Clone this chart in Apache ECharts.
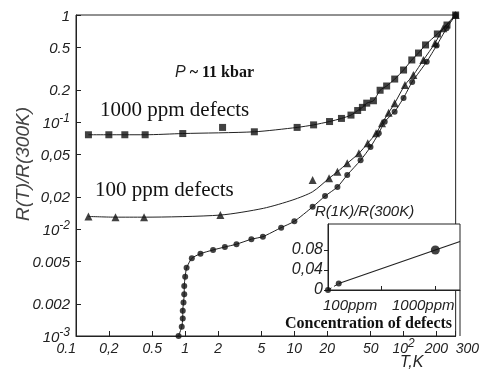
<!DOCTYPE html>
<html>
<head>
<meta charset="utf-8">
<script src="https://cdn.jsdelivr.net/npm/echarts@6/dist/echarts.min.js"></script>
<style>
html,body{margin:0;padding:0;background:#fff}
#chart{width:482px;height:373px}
</style>
</head>
<body>
<div id="chart"></div>
<script>
// 1000 ppm defects (squares), T in K, R(T)/R(300K)
var sqT = [0.13, 0.2, 0.28, 0.43, 0.95, 2.2, 4.3, 10.6, 15, 21, 27, 33, 38, 42, 46, 53, 61, 70, 83, 100, 119, 137, 159, 204, 250, 300];
var sqR = [0.076, 0.076, 0.076, 0.076, 0.078, 0.089, 0.081, 0.089, 0.094, 0.101, 0.108, 0.116, 0.128, 0.137, 0.15, 0.158, 0.198, 0.217, 0.252, 0.306, 0.38, 0.441, 0.525, 0.665, 0.806, 1];
var sqOffCurve = [5];
// 100 ppm defects (triangles)
var trT = [0.13, 0.23, 0.42, 2.1, 14.7, 20.8, 24.8, 30.5, 39, 47, 56, 63.5, 73, 83, 103, 123, 152, 194, 231, 300];
var trR = [0.0131, 0.0129, 0.0129, 0.0135, 0.0287, 0.0298, 0.0343, 0.0411, 0.051, 0.0632, 0.0784, 0.0973, 0.122, 0.15, 0.222, 0.275, 0.38, 0.544, 0.751, 1];
var trOffCurve = [4];
// points of the drawn 100 ppm curve where there is no triangle
var fit100T = [5.2, 9.7, 14.7];
var fit100R = [0.0156, 0.0187, 0.0223];
// circles
var ciT = [0.87, 0.93, 0.95, 0.95, 0.965, 0.98, 0.98, 1.0, 1.03, 1.15, 1.38, 1.8, 2.31, 2.95, 4.04, 5.15, 7.57, 10, 14.7, 19.1, 24.8, 30.5, 40.4, 49.8, 59.3, 67.2, 82.8, 100, 120, 163, 201, 248, 300];
var ciR = [0.001, 0.00122, 0.00146, 0.00172, 0.00206, 0.00246, 0.00294, 0.00358, 0.00434, 0.00532, 0.00588, 0.00637, 0.00679, 0.00721, 0.00803, 0.00848, 0.0103, 0.0118, 0.0161, 0.0203, 0.0247, 0.032, 0.0439, 0.0584, 0.0784, 0.1007, 0.125, 0.168, 0.237, 0.366, 0.519, 0.751, 1];
// inset: R(1K)/R(300K) vs concentration
var concPpm = [0, 100, 1000];
var ratio1K = [0, 0.013, 0.08];
var fitConc = [100, 1000, 1230];
var fitRatio = [0.013, 0.08, 0.097];

// ticks
var xTicks = [0.1, 0.2, 0.5, 1, 2, 5, 10, 20, 50, 100, 200, 300];
var xTickLabels = ['0.1', '0,2', '0.5', '1', '2', '5', '10', '20', '50', '10{s|2}', '200', '300'];
var yTicks = [0.001, 0.002, 0.005, 0.01, 0.02, 0.05, 0.1, 0.2, 0.5, 1];
var yTickLabels = ['10{s|-3}', '0.002', '0.005', '10{s|-2}', '0,02', '0,05', '10{s|-1}', '0.2', '0.5', '1'];
var insetYTicks = [0, 0.04, 0.08];
var insetYLabels = ['0', '0,04', '0.08'];

var SANS = '"Liberation Sans", Arial, sans-serif';
var SERIF = '"Liberation Serif", "Times New Roman", serif';

function pairs(xs, ys, skip) {
    var out = [];
    for (var i = 0; i < xs.length; i++) {
        if (skip && skip.indexOf(i) >= 0) continue;
        out.push([xs[i], ys[i]]);
    }
    return out;
}
// every label is wrapped so that labels with a superscript line up with the rest
function pickLabel(ticks, labels, v) {
    for (var i = 0; i < ticks.length; i++) {
        if (Math.abs(Math.log(v / ticks[i])) < 0.02) {
            var t = labels[i];
            var k = t.indexOf('{s|');
            if (k < 0) return '{n|' + t + '}';
            return '{n|' + t.slice(0, k) + '}' + t.slice(k);
        }
    }
    return '';
}

var fit100 = pairs(trT, trR, trOffCurve).concat(pairs(fit100T, fit100R));
fit100.sort(function (a, b) { return a[0] - b[0]; });

function supRich(size) {
    return {
        n: {fontSize: size, fontStyle: 'italic', fontFamily: SANS, color: '#222', lineHeight: 18, verticalAlign: 'bottom'},
        s: {fontSize: 12, fontStyle: 'italic', fontFamily: SANS, color: '#222', lineHeight: 11, verticalAlign: 'top'}
    };
}

var myChart = echarts.init(document.getElementById('chart'));
var option = {
    backgroundColor: '#fff',
    animation: false,
    grid: [
        {left: 76, right: 24, top: 15, bottom: 37, show: true, borderColor: '#222', borderWidth: 1},
        {left: 328, top: 224, width: 132, height: 66, show: true, borderColor: '#222', borderWidth: 1, backgroundColor: '#fff'}
    ],
    xAxis: [{
        type: 'log', logBase: 10, min: 0.1, max: 300, gridIndex: 0,
        axisLine: {lineStyle: {color: '#222', width: 1}},
        axisTick: {inside: true, length: 5, customValues: xTicks, lineStyle: {color: '#222'}},
        axisLabel: {
            customValues: xTicks, margin: 2, showMaxLabel: true, showMinLabel: true, hideOverlap: false,
            alignMinLabel: 'right', alignMaxLabel: 'left',
            fontSize: 14, fontStyle: 'italic', fontFamily: SANS, color: '#222',
            formatter: function (v) { return pickLabel(xTicks, xTickLabels, v); },
            rich: supRich(14)
        },
        splitLine: {show: false}, minorTick: {show: false}
    }, {
        type: 'value', min: 0, max: 1230, gridIndex: 1,
        axisLine: {lineStyle: {color: '#222'}},
        axisTick: {inside: true, length: 4, customValues: [500, 1000], lineStyle: {color: '#222'}},
        axisLabel: {show: false},
        splitLine: {show: false}
    }],
    yAxis: [{
        type: 'log', logBase: 10, min: 0.001, max: 1, gridIndex: 0,
        axisLine: {lineStyle: {color: '#222', width: 1}},
        axisTick: {inside: true, length: 5, customValues: yTicks, lineStyle: {color: '#222'}},
        axisLabel: {
            customValues: yTicks, margin: 6, showMaxLabel: true, showMinLabel: true, hideOverlap: false,
            fontSize: 15, fontStyle: 'italic', fontFamily: SANS, color: '#222',
            formatter: function (v) { return pickLabel(yTicks, yTickLabels, v); },
            rich: supRich(15)
        },
        splitLine: {show: false}, minorTick: {show: false}
    }, {
        type: 'value', min: 0, max: 0.132, gridIndex: 1,
        axisLine: {lineStyle: {color: '#222'}},
        axisTick: {length: 4, customValues: [0, 0.04, 0.08], lineStyle: {color: '#222'}},
        axisLabel: {
            customValues: insetYTicks, margin: 5, fontSize: 16, fontStyle: 'italic', fontFamily: SANS, color: '#222',
            formatter: function (v) {
                for (var i = 0; i < insetYTicks.length; i++) {
                    if (Math.abs(v - insetYTicks[i]) < 1e-6) return insetYLabels[i];
                }
                return '';
            }
        },
        splitLine: {show: false}
    }],
    series: [
        {type: 'line', name: 'fit1000', data: pairs(sqT, sqR, sqOffCurve), showSymbol: false, smooth: 0.25,
            lineStyle: {color: '#222', width: 1}, z: 2},
        {type: 'line', name: 'fit100', data: fit100, showSymbol: false, smooth: 0.25,
            lineStyle: {color: '#222', width: 1}, z: 2},
        {type: 'line', name: 'fitPure', data: pairs(ciT, ciR), showSymbol: false, smooth: 0.2,
            lineStyle: {color: '#222', width: 1}, z: 2},
        {type: 'scatter', name: '1000 ppm', data: pairs(sqT, sqR), symbol: 'rect', symbolSize: 7,
            itemStyle: {color: '#111'}, z: 3},
        {type: 'scatter', name: '100 ppm', data: pairs(trT, trR), symbol: 'triangle', symbolSize: 8,
            itemStyle: {color: '#111'}, z: 3},
        {type: 'scatter', name: 'pure', data: pairs(ciT, ciR), symbol: 'circle', symbolSize: 6,
            itemStyle: {color: '#111'}, z: 3},
        {type: 'line', xAxisIndex: 1, yAxisIndex: 1, data: pairs(concPpm.slice(0, 2), ratio1K.slice(0, 2)),
            showSymbol: false, lineStyle: {color: '#222', width: 1, type: [4, 3]}},
        {type: 'line', xAxisIndex: 1, yAxisIndex: 1, data: pairs(fitConc, fitRatio),
            showSymbol: false, lineStyle: {color: '#222', width: 1.2}},
        {type: 'scatter', xAxisIndex: 1, yAxisIndex: 1, data: pairs(concPpm, ratio1K),
            symbol: 'circle', symbolSize: function (d) { return d[0] >= 1000 ? 9 : 6; },
            itemStyle: {color: '#111'}, z: 3}
    ],
    graphic: [
        {type: 'text', x: 24, y: 164, rotation: Math.PI / 2,
            style: {text: 'R(T)/R(300K)', font: 'italic 19px ' + SANS, fill: '#444', textAlign: 'center', textVerticalAlign: 'middle'}},
        {type: 'text', x: 175, y: 73,
            style: {text: '{p|P} ~ 11 kbar', font: 'bold 16px ' + SERIF, fill: '#111', textVerticalAlign: 'middle',
                rich: {p: {font: 'italic 16px ' + SANS, fill: '#222'}}}},
        {type: 'text', x: 100, y: 110,
            style: {text: '1000 ppm defects', font: '21px ' + SERIF, fill: '#111', textVerticalAlign: 'middle'}},
        {type: 'text', x: 95, y: 190,
            style: {text: '100 ppm defects', font: '21px ' + SERIF, fill: '#111', textVerticalAlign: 'middle'}},
        {type: 'text', x: 315, y: 212,
            style: {text: 'R(1K)/R(300K)', font: 'italic 15px ' + SANS, fill: '#222', textVerticalAlign: 'middle'}},
        {type: 'text', x: 323, y: 306,
            style: {text: '100ppm', font: 'italic 15px ' + SANS, fill: '#222', textVerticalAlign: 'middle'}},
        {type: 'text', x: 392, y: 306,
            style: {text: '1000ppm', font: 'italic 15px ' + SANS, fill: '#222', textVerticalAlign: 'middle'}},
        {type: 'text', x: 285, y: 324,
            style: {text: 'Concentration of defects', font: 'bold 16px ' + SERIF, fill: '#111', textVerticalAlign: 'middle'}},
        {type: 'text', x: 400, y: 363,
            style: {text: 'T,K', font: 'italic 16px ' + SANS, fill: '#222', textVerticalAlign: 'middle'}},
        {type: 'line', shape: {x1: 460, y1: 290, x2: 460, y2: 336}, style: {stroke: '#222', lineWidth: 1}}
    ]
};
myChart.setOption(option);
</script>
</body>
</html>
